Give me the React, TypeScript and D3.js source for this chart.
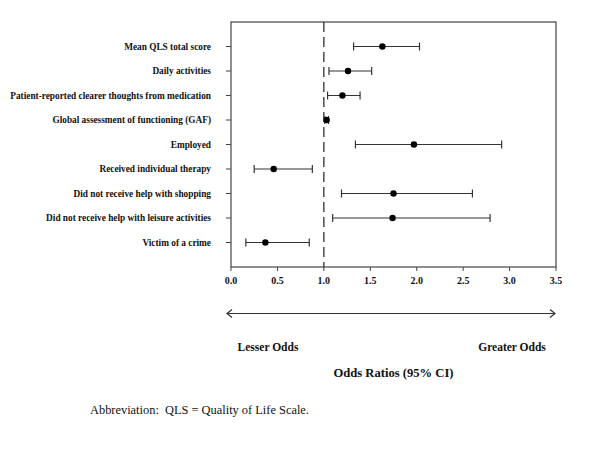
import React from "react";
import * as d3 from "d3";

const labels = [
  "Mean QLS total score",
  "Daily activities",
  "Patient-reported clearer thoughts from medication",
  "Global assessment of functioning (GAF)",
  "Employed",
  "Received individual therapy",
  "Did not receive help with shopping",
  "Did not receive help with leisure activities",
  "Victim of a crime",
];
const oddsRatio = [1.63, 1.26, 1.2, 1.03, 1.97, 0.46, 1.75, 1.74, 0.37];
const ciLow = [1.32, 1.055, 1.04, 1.01, 1.34, 0.25, 1.19, 1.095, 0.16];
const ciHigh = [2.03, 1.515, 1.39, 1.05, 2.915, 0.876, 2.6, 2.79, 0.843];
const xTicks = [0, 0.5, 1, 1.5, 2, 2.5, 3, 3.5];

export default function App() {
  const W = 600, H = 453;
  const left = 231, right = 556, top = 22, bottom = 267;
  const x = d3.scaleLinear().domain([0, 3.5]).range([left, right]);
  const y = d3.scaleLinear().domain([0, labels.length + 1]).range([top, bottom]);
  const serif = "'Liberation Serif', 'Times New Roman', serif";
  const ink = "#222";
  const arrowY = 313.5;
  const ax0 = 227, ax1 = 555;
  return (
    <svg width={W} height={H} style={{ position: "absolute", left: 0, top: 0, background: "#fff" }} fontFamily={serif}>
      <rect x={left} y={top} width={right - left} height={bottom - top} fill="none" stroke="#444" strokeWidth={1.2} />
      <line x1={x(1)} x2={x(1)} y1={top} y2={bottom} stroke={ink} strokeWidth={1.2} strokeDasharray="10,5" />
      {labels.map((l, i) => (
        <g key={l}>
          <line x1={left - 5} x2={left} y1={y(i + 1)} y2={y(i + 1)} stroke="#444" />
          <text x={211} y={y(i + 1)} dy="0.35em" textAnchor="end" fontSize={9.3} fontWeight="bold" fill="#111">{l}</text>
        </g>
      ))}
      {xTicks.map((t) => (
        <g key={t}>
          <line x1={x(t)} x2={x(t)} y1={bottom} y2={bottom + 4} stroke="#444" />
          <text x={x(t)} y={284} textAnchor="middle" fontSize={10} fontWeight="bold" fill="#111">{d3.format(".1f")(t)}</text>
        </g>
      ))}
      {labels.map((l, i) => {
        const cy = y(i + 1);
        return (
          <g key={"ci" + i}>
            <line x1={x(ciLow[i])} x2={x(ciHigh[i])} y1={cy} y2={cy} stroke="#333" strokeWidth={1.2} />
            <line x1={x(ciLow[i])} x2={x(ciLow[i])} y1={cy - 4} y2={cy + 4} stroke="#333" strokeWidth={1.2} />
            <line x1={x(ciHigh[i])} x2={x(ciHigh[i])} y1={cy - 4} y2={cy + 4} stroke="#333" strokeWidth={1.2} />
            <circle cx={x(oddsRatio[i])} cy={cy} r={3.2} fill="#000" />
          </g>
        );
      })}
      <line x1={ax0} x2={ax1} y1={arrowY} y2={arrowY} stroke="#333" strokeWidth={1.2} />
      <polyline points={`${ax0 + 5},${arrowY - 4} ${ax0},${arrowY} ${ax0 + 5},${arrowY + 4}`} fill="none" stroke="#333" strokeWidth={1.2} />
      <polyline points={`${ax1 - 5},${arrowY - 4} ${ax1},${arrowY} ${ax1 - 5},${arrowY + 4}`} fill="none" stroke="#333" strokeWidth={1.2} />
      <text x={268} y={351} textAnchor="middle" fontSize={11.5} fontWeight="bold" fill="#111">Lesser Odds</text>
      <text x={512} y={351} textAnchor="middle" fontSize={11.5} fontWeight="bold" fill="#111">Greater Odds</text>
      <text x={393.5} y={376.5} textAnchor="middle" fontSize={12.6} fontWeight="bold" fill="#111">Odds Ratios (95% CI)</text>
      <text x={90} y={414} fontSize={12.4} fill="#111" style={{ whiteSpace: "pre" }}>Abbreviation:  QLS = Quality of Life Scale.</text>
    </svg>
  );
}
